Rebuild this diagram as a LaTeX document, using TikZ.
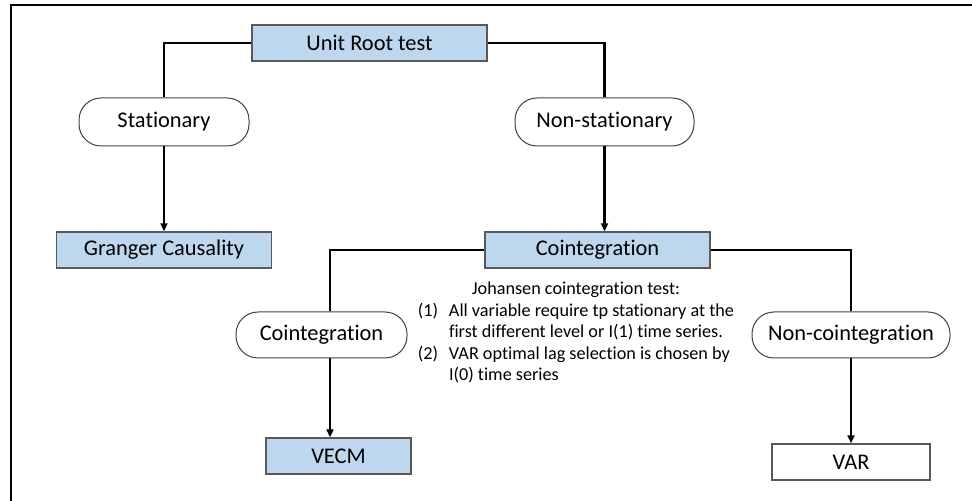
\documentclass[tikz,border=0pt]{standalone}
\usepackage{fontspec}
\setmainfont{Carlito}[Ligatures={NoCommon}]
\usetikzlibrary{positioning,arrows.meta}
\definecolor{boxblue}{HTML}{BDD7EE}
\definecolor{edgegray}{HTML}{595959}

\begin{document}
\begin{tikzpicture}[on grid,
  testbox/.style={draw=edgegray,line width=0.7pt,fill=boxblue,inner sep=0pt,minimum height=18pt,font=\fontsize{11.2}{13}\selectfont},
  varbox/.style={testbox,fill=white},
  outcome/.style={draw=black!75,line width=0.5pt,rounded corners=11pt,inner sep=0pt,minimum height=24pt,font=\fontsize{11.2}{13}\selectfont},
  link/.style={line width=1.1pt},
  arrow/.style={link,-{Triangle[length=4pt,width=3.5pt]}},
  notes/.style={inner sep=0pt,align=left,font=\fontsize{9.1}{10.75}\selectfont}]
\useasboundingbox (0pt,0pt) rectangle (486pt,-250.5pt);
\draw[line width=0.75pt] (5.5pt,-250.5pt) -- (5.5pt,-2.5pt) -- (486pt,-2.5pt);

\node[testbox,minimum width=117.5pt] (root) at (184.75pt,-21.5pt) {Unit Root test};
\node[outcome,minimum width=85pt] (stat) [below left=39.5pt and 102.75pt of root] {Stationary};
\node[outcome,minimum width=89.5pt] (nonstat) [below right=39.5pt and 117.5pt of root] {Non-stationary};
\node[testbox,minimum width=107.5pt] (granger) [below=64pt of stat] {Granger Causality};
\node[testbox,minimum width=112.5pt] (coint) [below=64pt of nonstat,xshift=-3.5pt] {Cointegration};
\node[outcome,minimum width=85.5pt,minimum height=23pt] (cointyes) [below left=42.5pt and 138pt of coint] {Cointegration};
\node[outcome,minimum width=99pt,minimum height=23pt] (cointno) [below right=42.5pt and 126.75pt of coint] {Non-cointegration};
\node[testbox,minimum width=72.5pt] (vecm) [below=60.5pt of cointyes,xshift=8.5pt] {VECM};
\node[varbox,minimum width=79pt] (var) [below=63.5pt of cointno] {VAR};
\node[notes,anchor=north] (johansen) at ([xshift=-10.75pt,yshift=-5.2pt]coint.south) {%
  \begin{tabular}{@{}l@{\hspace{5.4pt}}l@{}}
  \multicolumn{2}{@{}c@{}}{Johansen cointegration test:}\\
  (1) & All variable require tp stationary at the\\
      & first different level or I(1) time series.\\
  (2) & VAR optimal lag selection is chosen by\\
      & I(0) time series
  \end{tabular}};

\draw[link] (root.west) -| (stat.north);
\draw[link] (root.east) -| (nonstat.north);
\draw[arrow] (stat.south) -- (granger.north);
\draw[arrow] (nonstat.south) -- (nonstat.south |- coint.north);
\draw[link] (coint.west) -| ([xshift=4.25pt]cointyes.north);
\draw[arrow] ([xshift=4.25pt]cointyes.south) -- ([xshift=4.25pt]cointyes.south |- vecm.north);
\draw[link] (coint.east) -| (cointno.north);
\draw[arrow] (cointno.south) -- (var.north);
\end{tikzpicture}
\end{document}
